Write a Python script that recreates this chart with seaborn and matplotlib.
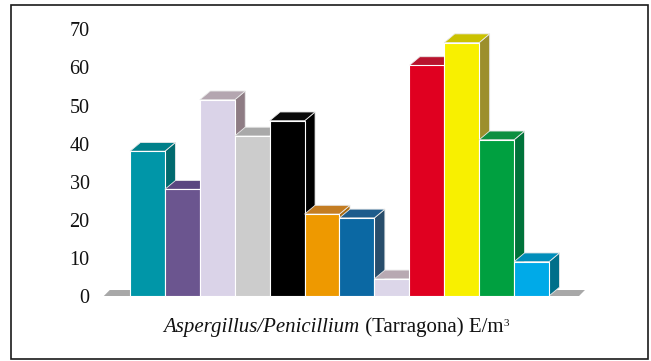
import matplotlib
matplotlib.use("Agg")
import matplotlib.pyplot as plt
from matplotlib.patches import Polygon, Rectangle
import seaborn as sns

# Spore counts per sampling site, E/m3
sites = ["S1", "S2", "S3", "S4", "S5", "S6", "S7", "S8", "S9", "S10", "S11", "S12"]
counts = [38, 28, 51.5, 42, 46, 21.5, 20.5, 4.5, 60.5, 66.5, 41, 9]

front_colors = ["#0096A8", "#6B558F", "#DAD3E8", "#CCCCCC", "#000000", "#EE9900",
                "#0B68A3", "#DCD6E9", "#E00020", "#F8F000", "#00A040", "#00AAE8"]
top_colors = ["#00808A", "#5B4780", "#B4A6B0", "#A9A9A9", "#0A0A0A", "#C47D22",
              "#1E5C8C", "#B8A9B2", "#B8142E", "#CBC200", "#0D8F40", "#008DBA"]
side_colors = ["#006A6E", "#4D3B6A", "#8E7C84", "#8A8A8A", "#000000", "#A86A10",
               "#284D6B", "#90808A", "#9A1020", "#9C8F2C", "#00733A", "#006F8A"]

y_ticks = [0, 10, 20, 30, 40, 50, 60, 70]
label_genus = "Aspergillus/Penicillium"
label_rest = " (Tarragona) E/m"
label_sup = "3"

sns.set_style("white")
plt.rcParams["font.family"] = ["Liberation Serif", "DejaVu Serif"]

W, H = 651, 361
fig = plt.figure(figsize=(W / 100, H / 100), dpi=100)

# axes placement in pixels
xlim = (-1.5, 12.8)
ylim = (-1.0, 72.0)
px_per_x = 419 / 12.0
px_per_y = (296 - 29.3) / 70.0
ax_left = 130 - 1.0 * px_per_x
ax_right = 549 + 1.3 * px_per_x
ax_bottom = 296 + 1.0 * px_per_y
ax_top = 296 - 72.0 * px_per_y
ax = fig.add_axes([ax_left / W, (H - ax_bottom) / H,
                   (ax_right - ax_left) / W, (ax_bottom - ax_top) / H])

sns.barplot(x=sites, y=counts, hue=sites, palette=front_colors, legend=False,
            width=1.0, saturation=1, edgecolor="white", linewidth=0.8, ax=ax)

ax.set_xlim(*xlim)
ax.set_ylim(*ylim)

# depth offset of the 3D look, in data units
dx, dy = 0.30, 2.3

# floor slab
fx0, fx1 = -1.25, 12.36
fdx, fdy = 0.17, 1.57
ax.add_patch(Polygon([(fx0, 0), (fx1, 0), (fx1 + fdx, fdy), (fx0 + fdx, fdy)],
                     closed=True, facecolor="#A8A8A8", edgecolor="none", zorder=1))

for i, bar in enumerate(ax.patches[:len(counts)]):
    x0 = bar.get_x()
    w = bar.get_width()
    h = bar.get_height()
    x1 = x0 + w
    z = 3 + 2 * i
    side = Polygon([(x1, 0), (x1, h), (x1 + dx, h + dy), (x1 + dx, dy)], closed=True,
                   facecolor=side_colors[i], edgecolor="#E8E8E8", linewidth=0.6, zorder=z)
    top = Polygon([(x0, h), (x1, h), (x1 + dx, h + dy), (x0 + dx, h + dy)], closed=True,
                  facecolor=top_colors[i], edgecolor="#E8E8E8", linewidth=0.6, zorder=z)
    ax.add_patch(side)
    ax.add_patch(top)
    bar.set_zorder(z + 1)

ax.set_yticks(y_ticks)
ax.set_yticklabels([str(t) for t in y_ticks], fontsize=14.5, color="#111111")
ax.tick_params(axis="y", length=0, pad=4)
ax.set_xticks([])
ax.set_xlabel("")
ax.set_ylabel("")
for s in ax.spines.values():
    s.set_visible(False)

# axis caption: italic genus names, upright remainder, small superscript
renderer = fig.canvas.get_renderer()
base_px = 332
t1 = fig.text(0, (H - base_px) / H, label_genus, ha="left", va="baseline",
              fontsize=15, fontstyle="italic", color="#111111")
t2 = fig.text(0, (H - base_px) / H, label_rest, ha="left", va="baseline",
              fontsize=15, color="#111111")
t3 = fig.text(0, (H - base_px + 6) / H, label_sup, ha="left", va="baseline",
              fontsize=8, color="#111111")
w1 = t1.get_window_extent(renderer).width
w2 = t2.get_window_extent(renderer).width
w3 = t3.get_window_extent(renderer).width
start = 336 - (w1 + w2 + w3) / 2
t1.set_x(start / W)
t2.set_x((start + w1) / W)
t3.set_x((start + w1 + w2 + 0.5) / W)

# outer frame
fig.add_artist(Rectangle((11 / W, (H - 358.5) / H), (647.5 - 11) / W, (358.5 - 4.7) / H,
                         transform=fig.transFigure, fill=False, edgecolor="#1A1A1A",
                         linewidth=1.2))

fig.savefig("out.png", dpi=100)
